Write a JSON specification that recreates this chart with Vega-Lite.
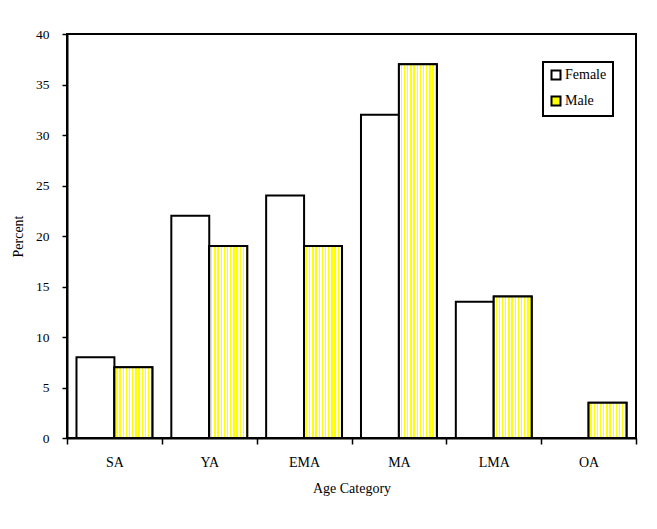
{
  "$schema": "https://vega.github.io/schema/vega-lite/v6.json",
  "width": 569,
  "height": 404,
  "autosize": {"type": "none"},
  "padding": {"left": 67, "top": 34, "right": 21, "bottom": 91},
  "background": "white",
  "config": {
    "view": {"stroke": "black", "strokeWidth": 2},
    "font": "Liberation Serif",
    "axis": {
      "domainColor": "black",
      "domainWidth": 2,
      "tickColor": "black",
      "tickWidth": 1.5,
      "labelColor": "black",
      "titleColor": "black",
      "titleFontWeight": "normal",
      "labelFont": "Liberation Serif",
      "titleFont": "Liberation Serif",
      "grid": false
    },
    "legend": {
      "strokeColor": "black",
      "strokeWidth": 2
    }
  },
  "data": {
    "values": [
      {"category": "SA", "sex": "Female", "percent": 8},
      {"category": "SA", "sex": "Male", "percent": 7},
      {"category": "YA", "sex": "Female", "percent": 22},
      {"category": "YA", "sex": "Male", "percent": 19},
      {"category": "EMA", "sex": "Female", "percent": 24},
      {"category": "EMA", "sex": "Male", "percent": 19},
      {"category": "MA", "sex": "Female", "percent": 32},
      {"category": "MA", "sex": "Male", "percent": 37},
      {"category": "LMA", "sex": "Female", "percent": 13.5},
      {"category": "LMA", "sex": "Male", "percent": 14},
      {"category": "OA", "sex": "Female", "percent": 0},
      {"category": "OA", "sex": "Male", "percent": 3.5}
    ]
  },
  "encoding": {
    "x": {
      "field": "category",
      "type": "nominal",
      "sort": ["SA", "YA", "EMA", "MA", "LMA", "OA"],
      "scale": {"paddingInner": 0, "paddingOuter": 0},
      "axis": {
        "title": "Age Category",
        "labelAngle": 0,
        "tickBand": "extent",
        "tickSize": 6,
        "labelPadding": 11,
        "labelFontSize": 14,
        "titleFontSize": 14,
        "titlePadding": 12
      }
    },
    "xOffset": {
      "field": "sex",
      "type": "nominal",
      "sort": ["Female", "Male"],
      "scale": {"paddingInner": 0, "paddingOuter": 0.25}
    },
    "y": {
      "field": "percent",
      "type": "quantitative",
      "scale": {"domain": [0, 40], "nice": false},
      "axis": {
        "title": "Percent",
        "values": [0, 5, 10, 15, 20, 25, 30, 35, 40],
        "tickSize": 5,
        "labelPadding": 13,
        "labelFontSize": 13.5,
        "titleFontSize": 14,
        "titleX": -49,
        "titleY": 202,
        "titleAngle": -90,
        "titleAlign": "center",
        "titleBaseline": "middle"
      }
    }
  },
  "layer": [
    {
      "mark": {"type": "bar", "stroke": "black", "strokeWidth": 2, "opacity": 1},
      "encoding": {
        "color": {
          "field": "sex",
          "type": "nominal",
          "scale": {"domain": ["Female", "Male"], "range": ["#ffffff", "#ffff00"]},
          "legend": {
            "title": null,
            "orient": "none",
            "legendX": 476,
            "legendY": 28,
            "padding": 6,
            "symbolType": "square",
            "symbolSize": 81,
            "symbolStrokeColor": "black",
            "symbolStrokeWidth": 2,
            "symbolOpacity": 1,
            "labelFontSize": 14,
            "labelFont": "Liberation Serif",
            "labelColor": "black",
            "labelOffset": 2,
            "rowPadding": 8,
            "fillColor": "white"
          }
        }
      }
    },
    {
      "transform": [{"filter": "datum.sex === 'Male'"}],
      "mark": {
        "type": "bar",
        "stroke": "black",
        "strokeWidth": 2,
        "opacity": 1,
        "fill": {
          "gradient": "linear",
          "x1": 0, "y1": 0, "x2": 1, "y2": 0,
          "stops": [
            {"offset": 0, "color": "#ffffff"}, {"offset": 0.05, "color": "#ffffff"},
            {"offset": 0.05, "color": "#ffff00"}, {"offset": 0.0833, "color": "#ffff00"},
            {"offset": 0.0833, "color": "#ffffff"}, {"offset": 0.1333, "color": "#ffffff"},
            {"offset": 0.1333, "color": "#ffff00"}, {"offset": 0.1667, "color": "#ffff00"},
            {"offset": 0.1667, "color": "#ffffff"}, {"offset": 0.2167, "color": "#ffffff"},
            {"offset": 0.2167, "color": "#ffff00"}, {"offset": 0.25, "color": "#ffff00"},
            {"offset": 0.25, "color": "#ffffff"}, {"offset": 0.3, "color": "#ffffff"},
            {"offset": 0.3, "color": "#ffff00"}, {"offset": 0.3333, "color": "#ffff00"},
            {"offset": 0.3333, "color": "#ffffff"}, {"offset": 0.3833, "color": "#ffffff"},
            {"offset": 0.3833, "color": "#ffff00"}, {"offset": 0.4167, "color": "#ffff00"},
            {"offset": 0.4167, "color": "#ffffff"}, {"offset": 0.4667, "color": "#ffffff"},
            {"offset": 0.4667, "color": "#ffff00"}, {"offset": 0.5, "color": "#ffff00"},
            {"offset": 0.5, "color": "#ffffff"}, {"offset": 0.55, "color": "#ffffff"},
            {"offset": 0.55, "color": "#ffff00"}, {"offset": 0.5833, "color": "#ffff00"},
            {"offset": 0.5833, "color": "#ffffff"}, {"offset": 0.6333, "color": "#ffffff"},
            {"offset": 0.6333, "color": "#ffff00"}, {"offset": 0.6667, "color": "#ffff00"},
            {"offset": 0.6667, "color": "#ffffff"}, {"offset": 0.7167, "color": "#ffffff"},
            {"offset": 0.7167, "color": "#ffff00"}, {"offset": 0.75, "color": "#ffff00"},
            {"offset": 0.75, "color": "#ffffff"}, {"offset": 0.8, "color": "#ffffff"},
            {"offset": 0.8, "color": "#ffff00"}, {"offset": 0.8333, "color": "#ffff00"},
            {"offset": 0.8333, "color": "#ffffff"}, {"offset": 0.8833, "color": "#ffffff"},
            {"offset": 0.8833, "color": "#ffff00"}, {"offset": 0.9167, "color": "#ffff00"},
            {"offset": 0.9167, "color": "#ffffff"}, {"offset": 0.9667, "color": "#ffffff"},
            {"offset": 0.9667, "color": "#ffff00"}, {"offset": 1, "color": "#ffff00"}
          ]
        }
      }
    }
  ]
}
